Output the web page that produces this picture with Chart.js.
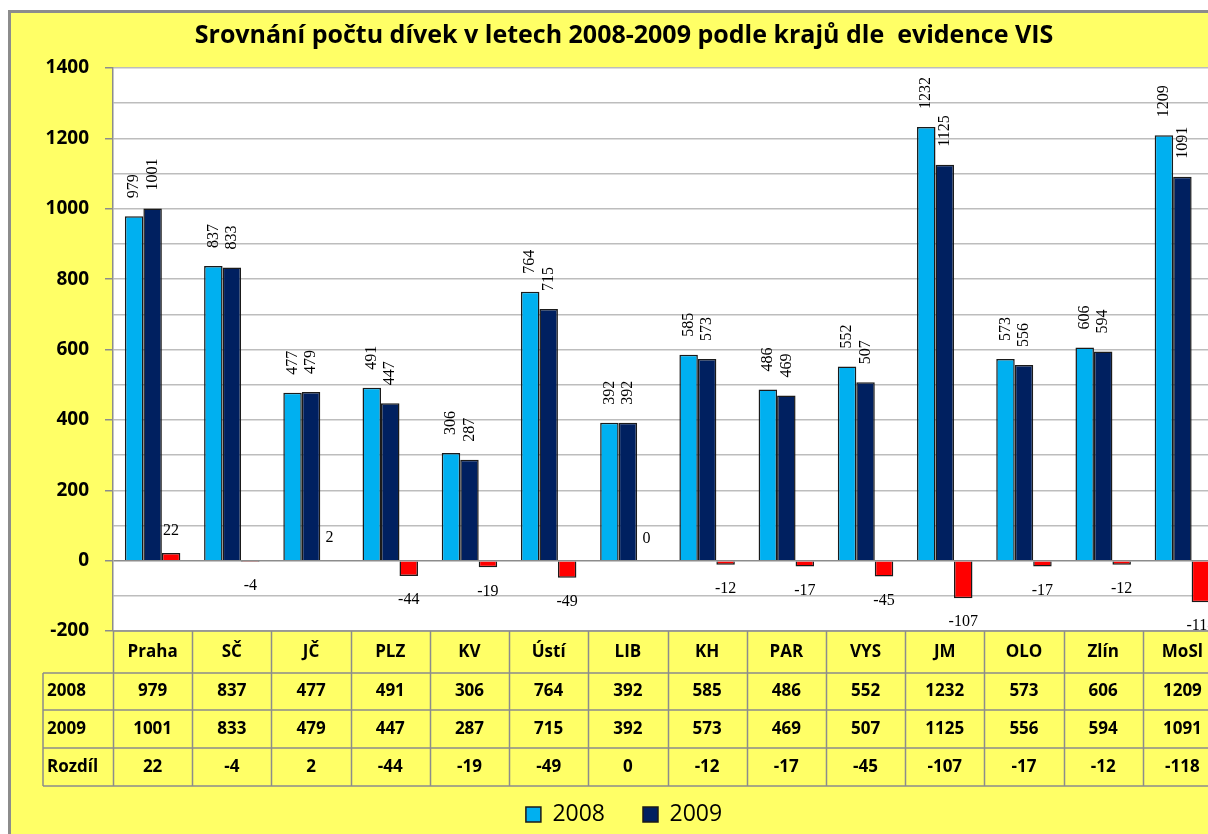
<!DOCTYPE html>
<html>
<head>
<meta charset="utf-8">
<script src="https://cdn.jsdelivr.net/npm/chart.js@4.4.1/dist/chart.umd.min.js"></script>
<style>
  html, body { margin: 0; padding: 0; background: #fff; overflow: hidden; }
  #wrap { position: absolute; left: 0; top: 0; width: 1230px; height: 850px; }
</style>
</head>
<body>
<div id="wrap"><canvas id="chart"></canvas></div>
<script>
const regions = ["Praha", "SČ", "JČ", "PLZ", "KV", "Ústí", "LIB", "KH", "PAR", "VYS", "JM", "OLO", "Zlín", "MoSl"];
const girls2008 = [979, 837, 477, 491, 306, 764, 392, 585, 486, 552, 1232, 573, 606, 1209];
const girls2009 = [1001, 833, 479, 447, 287, 715, 392, 573, 469, 507, 1125, 556, 594, 1091];
const diff = [22, -4, 2, -44, -19, -49, 0, -12, -17, -45, -107, -17, -12, -118];
const rowNames = ["2008", "2009", "Rozdíl"];

const YELLOW = "#FFFF66";
const LINE = "#8c8c8c";
const FONT = "'Open Sans'";

// frame + white plot area
const background = {
  id: "background",
  beforeDraw(chart) {
    const { ctx, chartArea: a, width, height } = chart;
    ctx.save();
    ctx.fillStyle = "#fff";
    ctx.fillRect(0, 0, width, height);
    ctx.fillStyle = YELLOW;
    ctx.fillRect(8, 10, width, height);
    ctx.fillStyle = LINE;
    ctx.fillRect(8, 10, 3, height);
    ctx.fillRect(8, 10, width, 3);
    ctx.fillStyle = "#fff";
    ctx.fillRect(a.left, a.top, a.right - a.left, a.bottom - a.top);
    ctx.restore();
  }
};

// value labels above/below bars
const valueLabels = {
  id: "valueLabels",
  afterDatasetsDraw(chart) {
    const { ctx } = chart;
    ctx.save();
    ctx.fillStyle = "#000";
    ctx.font = "16px 'Liberation Serif'";
    [0, 1].forEach(d => {
      chart.getDatasetMeta(d).data.forEach((el, i) => {
        ctx.save();
        ctx.translate(el.x, el.y - 18);
        ctx.rotate(-Math.PI / 2);
        ctx.textAlign = "left";
        ctx.textBaseline = "middle";
        ctx.fillText(chart.data.datasets[d].data[i], 0, 0);
        ctx.restore();
      });
    });
    ctx.textAlign = "center";
    ctx.textBaseline = "middle";
    chart.getDatasetMeta(2).data.forEach((el, i) => {
      const v = diff[i];
      const y = v >= 0 ? el.y - 22 : el.y + 24;
      ctx.fillText(v, el.x, y);
    });
    ctx.restore();
  }
};

// data table under the plot
const dataTable = {
  id: "dataTable",
  afterDraw(chart) {
    const { ctx, chartArea: a, scales: { x } } = chart;
    const n = regions.length;
    const step = x.width / n;
    const top = a.bottom;
    const rows = [top, top + 42, top + 79, top + 117, top + 155];
    const leftCol = 43;
    ctx.save();
    ctx.strokeStyle = LINE;
    ctx.lineWidth = 1.5;
    ctx.beginPath();
    ctx.moveTo(a.left, rows[0]); ctx.lineTo(a.right, rows[0]);
    for (let r = 1; r < rows.length; r++) {
      ctx.moveTo(leftCol, rows[r]); ctx.lineTo(a.right, rows[r]);
    }
    ctx.moveTo(leftCol, rows[1]); ctx.lineTo(leftCol, rows[4]);
    for (let i = 0; i <= n; i++) {
      const bx = Math.round(x.left + i * step) + 0.5;
      ctx.moveTo(bx, rows[0]); ctx.lineTo(bx, rows[4]);
    }
    ctx.stroke();

    ctx.fillStyle = "#000";
    ctx.font = "bold 17px " + FONT;
    ctx.textBaseline = "middle";
    ctx.textAlign = "center";
    const series = [girls2008, girls2009, diff];
    regions.forEach((name, i) => {
      const cx = x.getPixelForValue(i);
      ctx.fillText(name, cx, (rows[0] + rows[1]) / 2);
      series.forEach((s, r) => {
        ctx.fillText(s[i], cx, (rows[r + 1] + rows[r + 2]) / 2);
      });
    });
    ctx.textAlign = "left";
    rowNames.forEach((name, r) => {
      ctx.fillText(name, leftCol + 4, (rows[r + 1] + rows[r + 2]) / 2);
    });
    ctx.restore();
  }
};

new Chart(document.getElementById("chart"), {
  type: "bar",
  data: {
    labels: regions,
    datasets: [
      { label: "2008", data: girls2008, backgroundColor: "#00B0F0", borderColor: "#1a1a1a", borderWidth: 1.5 },
      { label: "2009", data: girls2009, backgroundColor: "#002060", borderColor: "#1a1a1a", borderWidth: 1.5 },
      { label: "Rozdíl", data: diff, backgroundColor: "#FF0000", borderColor: "#1a1a1a", borderWidth: 1.5 }
    ]
  },
  options: {
    responsive: true,
    maintainAspectRatio: false,
    animation: false,
    datasets: { bar: { categoryPercentage: 0.7, barPercentage: 1.0 } },
    layout: { padding: { left: 26, right: 8, top: 13, bottom: 14 } },
    scales: {
      x: {
        ticks: { display: false },
        grid: { display: false },
        border: { display: false },
        afterFit(scale) { scale.height = 134; }
      },
      y: {
        min: -200,
        max: 1400,
        ticks: {
          stepSize: 100,
          padding: 16,
          color: "#000",
          font: { family: FONT, size: 19, weight: "bold" },
          callback: v => (v % 200 === 0 ? v : "")
        },
        grid: {
          color: c => (c.tick && c.tick.value === 0 ? "#8c8c8c" : "#bdbdbd"),
          lineWidth: 1.5,
          tickLength: 8,
          tickColor: c => (c.tick && c.tick.value % 200 === 0 ? "#8c8c8c" : "rgba(0,0,0,0)")
        },
        border: { color: "#8c8c8c", width: 1.5 },
        afterFit(scale) { scale.width = 87; }
      }
    },
    plugins: {
      title: {
        display: true,
        text: "Srovnání počtu dívek v letech 2008-2009 podle krajů dle  evidence VIS",
        color: "#000",
        font: { family: FONT, size: 25, weight: "bold" },
        padding: { top: 8, bottom: 17 }
      },
      legend: {
        position: "bottom",
        labels: {
          color: "#000",
          boxWidth: 15,
          boxHeight: 15,
          padding: 38,
          font: { family: FONT, size: 23 },
          filter: item => item.datasetIndex < 2
        }
      },
      tooltip: { enabled: false }
    }
  },
  plugins: [background, valueLabels, dataTable]
});
</script>
</body>
</html>
